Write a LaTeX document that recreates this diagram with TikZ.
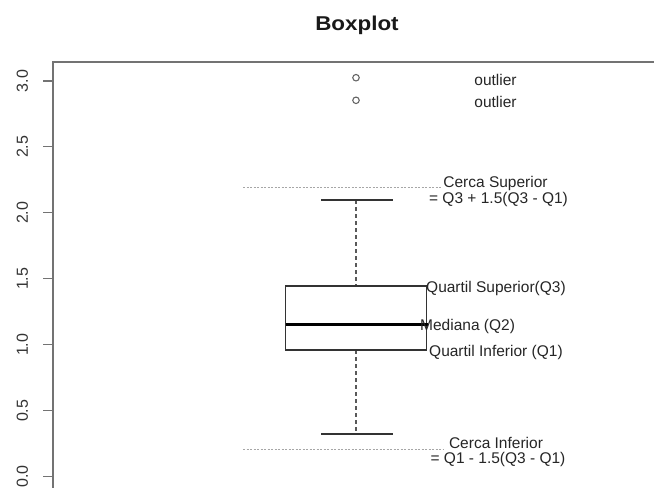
\documentclass[tikz,border=0pt]{standalone}
\usepackage{fontspec}
\setmainfont{Liberation Sans}
\begin{document}
\begin{tikzpicture}[x=1pt,y=-1pt,
  lbl/.style={inner sep=0pt, font=\fontsize{15.5}{18}\selectfont, text=black!85, text height=11.1pt, text depth=0pt},
  ticklbl/.style={inner sep=0pt, font=\fontsize{16}{19}\selectfont, text=black!80, rotate=90, text height=11.5pt, text depth=0pt},
  frameline/.style={draw=black!55, line width=2pt},
  tickline/.style={draw=black!55, line width=1.3pt},
  boxline/.style={draw=black!80, line width=1.4pt},
  medline/.style={draw=black, line width=3pt},
  whisk/.style={draw=black!65, line width=1.8pt, dash pattern=on 3.5pt off 3.5pt},
  fence/.style={draw=black!35, line width=0.9pt, dash pattern=on 2pt off 1.5pt},
  outpt/.style={circle, draw=black!60, line width=1.1pt, minimum size=6.5pt, inner sep=0pt}
]
\useasboundingbox (0,0) rectangle (654,488);
\fill[white] (0,0) rectangle (654,488);

% title
\node[inner sep=0pt, font=\fontsize{20}{24}\selectfont\bfseries, text=black!90, text height=14.3pt, text depth=0pt, xscale=1.12] (title) at (357,23.7) {Boxplot};

% frame
\coordinate (fr) at (654,62.3);
\coordinate (ftl) at (53.3,62.3);
\coordinate (fb) at (53.3,488);
\draw[frameline] (fr) -- (ftl) -- (fb);

% ticks and labels
\foreach \v/\y in {3.0/80.9, 2.5/146.8, 2.0/212.8, 1.5/278.8, 1.0/344.8, 0.5/410.8, 0.0/476.7}{
  \draw[tickline] (43.3,\y) -- (53.3,\y);
  \node[ticklbl] at (22,\y) {\v};
}

% fences
\coordinate (fs1) at (243,187.3);
\coordinate (fs2) at (441,187.3);
\coordinate (fi1) at (243,449);
\coordinate (fi2) at (443,449);
\draw[fence] (fs1) -- (fs2);
\draw[fence] (fi1) -- (fi2);

% whiskers
\coordinate (capT) at (356.3,200);
\coordinate (capB) at (356.3,434);
\coordinate (boxT) at (356.3,286);
\coordinate (boxB) at (356.3,350);
\draw[whisk] (capT) -- (boxT);
\draw[whisk] (boxB) -- (capB);
\draw[boxline] (321,200) -- (392.7,200);
\draw[boxline] (321,434) -- (392.7,434);

% box
\draw[boxline] (285.7,286) rectangle (426.5,350);
\draw[medline] (285.7,324.4) -- (428,324.4);

% outliers
\node[outpt] (o1) at (356,77.7) {};
\node[outpt] (o2) at (356,100.3) {};

% labels
\node[lbl] (l1) at (495.5,80) {outlier};
\node[lbl] (l2) at (495.5,101.5) {outlier};
\node[lbl] (csup) at (495.5,182) {Cerca Superior};
\node[lbl] (csupf) at (498.5,197.7) {= Q3 + 1.5(Q3 - Q1)};
\node[lbl, anchor=west] (q3) at (426,286.5) {Quartil Superior(Q3)};
\node[lbl, anchor=west] (q2) at (420,324.5) {Mediana (Q2)};
\node[lbl, anchor=west] (q1) at (429,351) {Quartil Inferior (Q1)};
\node[lbl] (cinf) at (496,443) {Cerca Inferior};
\node[lbl] (cinff) at (498,458) {= Q1 - 1.5(Q3 - Q1)};
\end{tikzpicture}
\end{document}
